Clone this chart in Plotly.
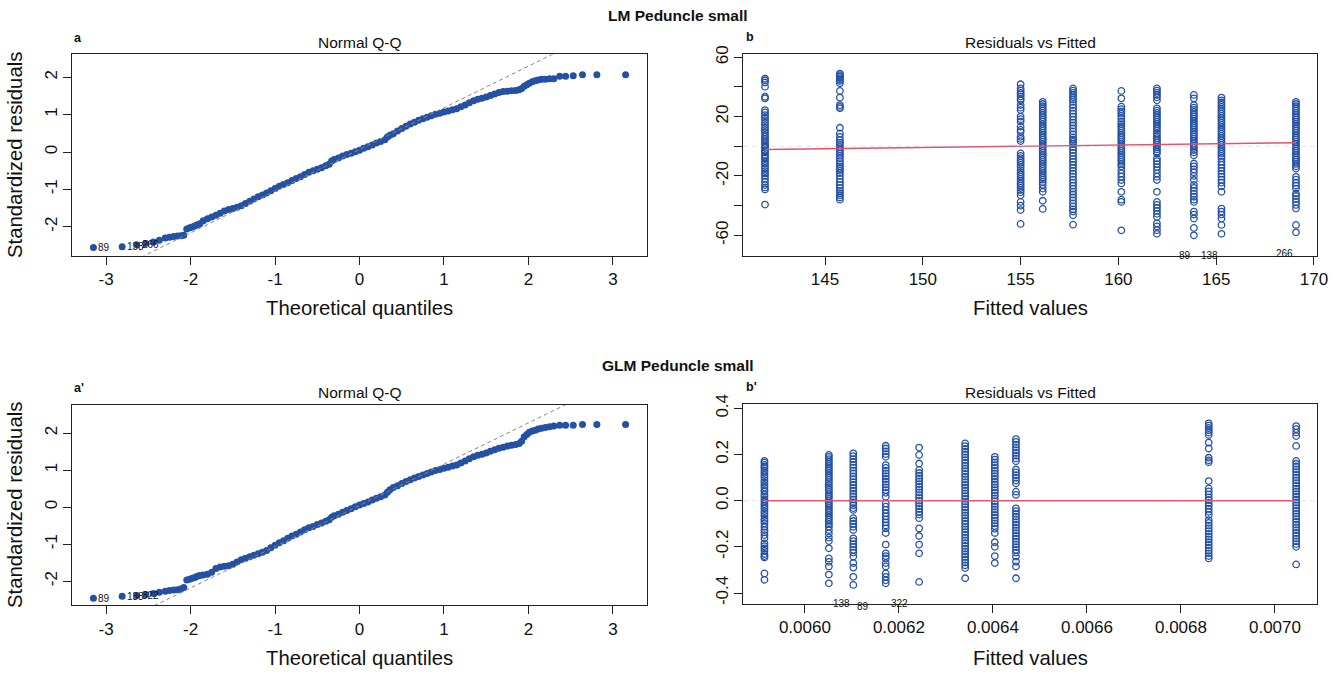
import plotly.graph_objects as go

W, H = 1339, 675
FONT = "Liberation Sans, Arial, Helvetica, sans-serif"
BLUE = "#2451A4"
RED = "#DF536B"
AXIS = "#222222"

# ---- Normal Q-Q panels: theoretical quantiles and sorted standardized residuals ----
QQ_THEORETICAL = [
    -3.15, -2.81, -2.64, -2.53, -2.44, -2.37, -2.30, -2.25, -2.20, -2.155, -2.115, -2.08,
    -2.045, -2.01, -1.98, -1.95, -1.92, -1.89, -1.85, -1.80, -1.75, -1.70, -1.65, -1.60,
    -1.55, -1.50, -1.45, -1.40, -1.35, -1.30, -1.25, -1.20, -1.15, -1.10, -1.05, -1.00,
    -0.95, -0.90, -0.85, -0.80, -0.75, -0.70, -0.65, -0.60, -0.55, -0.50, -0.45, -0.40,
    -0.36, -0.33, -0.30, -0.25, -0.20, -0.15, -0.10, -0.05, 0.00, 0.05, 0.10, 0.15,
    0.20, 0.25, 0.30, 0.33, 0.36, 0.40, 0.45, 0.50, 0.55, 0.60, 0.65, 0.70,
    0.75, 0.80, 0.85, 0.90, 0.95, 1.00, 1.05, 1.10, 1.15, 1.20, 1.25, 1.30,
    1.35, 1.40, 1.45, 1.50, 1.55, 1.60, 1.65, 1.70, 1.75, 1.80, 1.85, 1.89,
    1.92, 1.95, 1.98, 2.01, 2.045, 2.08, 2.115, 2.155, 2.20, 2.25, 2.30, 2.37,
    2.44, 2.53, 2.64, 2.81, 3.15,
]
QQ_LM_STD_RESID = [
    -2.56, -2.54, -2.48, -2.45, -2.41, -2.36, -2.30, -2.28, -2.26, -2.25, -2.24, -2.23,
    -2.06, -2.03, -2.01, -1.98, -1.95, -1.92, -1.84, -1.79, -1.74, -1.69, -1.64, -1.58,
    -1.54, -1.51, -1.48, -1.44, -1.38, -1.32, -1.26, -1.20, -1.15, -1.10, -1.04, -0.98,
    -0.92, -0.87, -0.82, -0.76, -0.71, -0.66, -0.60, -0.54, -0.50, -0.46, -0.42, -0.37,
    -0.33, -0.24, -0.20, -0.16, -0.11, -0.07, -0.03, 0.01, 0.05, 0.10, 0.14, 0.19,
    0.24, 0.28, 0.33, 0.40, 0.45, 0.49, 0.56, 0.63, 0.69, 0.75, 0.80, 0.85,
    0.89, 0.93, 0.97, 1.01, 1.04, 1.07, 1.10, 1.13, 1.16, 1.21, 1.26, 1.32,
    1.37, 1.41, 1.44, 1.47, 1.51, 1.55, 1.59, 1.62, 1.63, 1.64, 1.65, 1.67,
    1.70, 1.76, 1.80, 1.84, 1.88, 1.91, 1.93, 1.95, 1.95, 1.96, 1.96, 2.03,
    2.03, 2.04, 2.07, 2.07, 2.07,
]
QQ_GLM_STD_RESID = [
    -2.46, -2.41, -2.39, -2.36, -2.33, -2.30, -2.27, -2.25, -2.24, -2.23, -2.21, -2.17,
    -1.97, -1.95, -1.92, -1.90, -1.87, -1.85, -1.83, -1.81, -1.76, -1.66, -1.62, -1.60,
    -1.58, -1.54, -1.48, -1.42, -1.38, -1.34, -1.30, -1.26, -1.22, -1.17, -1.10, -1.03,
    -0.96, -0.91, -0.84, -0.78, -0.73, -0.67, -0.61, -0.56, -0.52, -0.47, -0.43, -0.38,
    -0.34, -0.27, -0.23, -0.19, -0.14, -0.09, -0.04, 0.01, 0.06, 0.10, 0.14, 0.19,
    0.24, 0.28, 0.33, 0.40, 0.47, 0.53, 0.58, 0.64, 0.69, 0.74, 0.79, 0.83,
    0.87, 0.91, 0.95, 0.99, 1.02, 1.05, 1.08, 1.11, 1.14, 1.19, 1.25, 1.31,
    1.36, 1.40, 1.43, 1.46, 1.51, 1.55, 1.59, 1.62, 1.65, 1.67, 1.69, 1.72,
    1.78, 1.90, 1.96, 2.02, 2.06, 2.08, 2.11, 2.13, 2.15, 2.17, 2.19, 2.21,
    2.21, 2.21, 2.23, 2.23, 2.23,
]
# reference lines through the quartiles: (intercept, slope)
QQ_LM_LINE = (0.067, 1.116)
QQ_GLM_LINE = (0.047, 1.115)
QQ_LM_IDS = ["89", "138", "266"]
QQ_GLM_IDS = ["89", "138", "322"]
QQ_X_TICKS = [-3, -2, -1, 0, 1, 2, 3]
QQ_Y_TICKS = [-2, -1, 0, 1, 2]

# ---- Residuals vs Fitted panels ----
LM_FITTED = [141.93, 145.76, 155.00, 156.13, 157.68, 160.15, 161.97, 163.86, 165.27, 169.08]
LM_RESID = [
    [45.6, 44.5, 43.0, 40.2, 33.4, 32.3, 24.4, 22.8, 21.0, 19.3, 17.7, 15.9, 14.3, 12.5, 10.9,
     9.4, 7.6, 6.4, 4.9, 3.5, 2.2, 0.8, -0.2, -1.0, -2.6, -3.5, -4.2, -6.0, -7.0, -8.2, -10.0,
     -11.6, -13.2, -14.9, -16.7, -18.3, -19.9, -21.7, -23.9, -26.1, -27.7, -29.1, -39.3],
    [49.0, 48.0, 47.0, 46.0, 45.0, 44.0, 42.5, 37.3, 32.8, 27.8, 26.5, 25.6, 12.5, 8.7, 6.4,
     4.2, 2.5, 1.0, -0.5, -2.0, -3.5, -5.0, -6.5, -8.0, -10.0, -12.0, -13.5, -15.0, -16.5,
     -18.0, -20.0, -22.0, -24.0, -26.0, -28.0, -30.0, -31.5, -33.0, -34.5, -36.0],
    [41.8, 39.0, 37.5, 36.0, 35.0, 33.5, 32.0, 31.0, 27.8, 26.0, 24.4, 20.0, 18.3, 16.6, 13.2,
     11.0, 9.7, 6.4, 5.0, 3.5, -4.8, -6.5, -8.0, -9.5, -11.0, -12.5, -14.0, -16.0, -17.5,
     -19.0, -20.5, -22.0, -23.5, -25.0, -26.5, -28.0, -29.5, -31.0, -33.0, -37.5, -40.0,
     -43.0, -52.3],
    [30.0, 28.5, 27.0, 25.5, 24.0, 22.5, 21.0, 19.5, 18.0, 16.6, 15.0, 13.5, 12.0, 10.5, 9.0,
     7.5, 6.0, 4.5, 3.0, 1.5, 0.0, -1.5, -3.0, -4.5, -6.0, -7.5, -9.0, -10.5, -12.0, -13.5,
     -15.0, -16.5, -18.0, -19.5, -21.0, -22.5, -24.0, -26.0, -28.5, -30.7, -36.7, -42.2],
    [39.0, 37.5, 36.0, 34.5, 33.0, 31.5, 30.0, 27.8, 26.0, 24.0, 22.0, 20.0, 18.0, 16.0, 14.0,
     12.0, 10.0, 8.0, 6.0, 4.5, 3.0, 1.5, -0.5, -2.5, -4.5, -6.5, -8.5, -10.5, -12.5, -14.5,
     -16.5, -18.5, -20.5, -22.5, -24.5, -26.5, -28.5, -30.5, -32.5, -34.5, -36.5, -38.5,
     -40.5, -42.5, -44.0, -46.5, -52.8],
    [37.3, 32.3, 26.7, 25.0, 23.5, 22.0, 20.5, 18.8, 16.6, 15.0, 13.5, 12.0, 10.5, 9.0, 7.5,
     6.0, 4.5, 3.0, 1.5, 0.0, -1.5, -3.0, -4.5, -6.0, -7.5, -9.0, -10.5, -12.0, -13.5, -16.0,
     -18.3, -20.5, -22.7, -25.0, -30.7, -36.0, -37.5, -56.6],
    [39.0, 37.5, 36.0, 34.5, 33.0, 31.0, 25.6, 24.0, 22.5, 21.0, 19.5, 18.0, 16.5, 15.0, 13.5,
     12.0, 10.5, 8.7, 7.0, 5.5, 4.0, 2.5, 1.0, -0.5, -2.0, -3.5, -4.8, -8.2, -10.0, -12.0,
     -14.0, -16.0, -18.3, -20.5, -22.7, -30.7, -37.5, -39.5, -41.5, -43.5, -45.5, -47.6,
     -52.0, -54.0, -56.5, -59.0],
    [34.6, 32.3, 27.8, 26.0, 24.5, 23.0, 21.5, 20.0, 18.5, 17.0, 15.5, 14.0, 12.5, 11.0, 9.5,
     8.0, 6.5, 5.0, 3.5, 2.0, 0.5, -1.0, -2.5, -4.0, -6.0, -11.6, -13.5, -15.5, -17.5, -20.0,
     -22.7, -26.0, -28.0, -30.0, -32.0, -34.0, -36.0, -37.5, -44.0, -46.0, -48.7, -55.0, -60.0],
    [32.8, 31.0, 29.5, 28.0, 26.5, 25.0, 23.5, 22.0, 20.5, 19.0, 17.5, 16.0, 14.5, 13.0, 11.5,
     10.0, 8.5, 7.0, 5.5, 4.0, 2.5, 1.0, -0.5, -2.0, -3.5, -5.0, -6.5, -8.0, -10.5, -12.5,
     -14.5, -16.5, -18.5, -20.5, -22.5, -24.5, -27.0, -30.7, -42.0, -44.0, -46.0, -48.7,
     -53.0, -59.0],
    [30.0, 28.5, 27.0, 25.5, 24.0, 22.5, 21.0, 19.5, 18.0, 16.5, 15.0, 13.5, 12.0, 10.5, 9.0,
     7.5, 6.0, 4.5, 3.0, 1.5, 0.0, -1.5, -3.0, -4.5, -6.0, -7.5, -9.0, -10.5, -12.0, -13.5,
     -15.0, -20.6, -22.5, -24.5, -26.5, -28.5, -31.8, -33.5, -35.5, -37.5, -39.5, -42.0,
     -53.0, -58.0],
]
LM_SMOOTH = [-2.2, -1.5, 0.0, 0.2, 0.5, 1.0, 1.4, 1.7, 1.9, 2.4]
LM_RV_IDS = [("89", 163.4, -73.9), ("138", 164.66, -73.9), ("266", 168.47, -72.4)]
LM_X_TICKS = [145, 150, 155, 160, 165, 170]
LM_Y_TICKS = [-60, -40, -20, 0, 20, 40, 60]
LM_Y_TICKTEXT = ["-60", "", "-20", "", "20", "", "60"]

GLM_FITTED = [0.005914, 0.006051, 0.006103, 0.006172, 0.006243,
              0.006341, 0.006404, 0.006449, 0.006859, 0.007045]
GLM_RESID = [
    [0.172, 0.165, 0.155, 0.147, 0.140, 0.130, 0.121, 0.111, 0.101, 0.089, 0.078, 0.068,
     0.058, 0.046, 0.039, 0.027, 0.017, 0.006, -0.004, -0.014, -0.023, -0.033, -0.045,
     -0.055, -0.066, -0.079, -0.087, -0.098, -0.113, -0.127, -0.137, -0.149, -0.163,
     -0.185, -0.197, -0.207, -0.217, -0.231, -0.240, -0.246, -0.315, -0.343],
    [0.198, 0.190, 0.180, 0.170, 0.160, 0.150, 0.140, 0.130, 0.120, 0.110, 0.100, 0.090,
     0.080, 0.068, 0.058, 0.048, 0.038, 0.028, 0.018, 0.008, -0.002, -0.012, -0.022,
     -0.032, -0.042, -0.052, -0.062, -0.072, -0.082, -0.092, -0.102, -0.112, -0.127,
     -0.142, -0.160, -0.175, -0.206, -0.250, -0.265, -0.285, -0.320, -0.358],
    [0.205, 0.193, 0.180, 0.168, 0.155, 0.143, 0.130, 0.118, 0.105, 0.093, 0.080, 0.068,
     0.055, 0.043, 0.030, 0.018, 0.005, -0.008, -0.020, -0.032, -0.040, -0.076, -0.088,
     -0.100, -0.113, -0.127, -0.163, -0.175, -0.188, -0.200, -0.213, -0.225, -0.242,
     -0.270, -0.290, -0.330, -0.365],
    [0.238, 0.226, 0.214, 0.202, 0.190, 0.154, 0.142, 0.130, 0.118, 0.106, 0.094, 0.082,
     0.070, 0.058, 0.046, 0.034, 0.017, -0.012, -0.026, -0.040, -0.055, -0.068, -0.081,
     -0.094, -0.107, -0.120, -0.140, -0.190, -0.228, -0.240, -0.250, -0.270, -0.285,
     -0.315, -0.330, -0.345, -0.358],
    [0.230, 0.198, 0.161, 0.133, 0.120, 0.108, 0.096, 0.084, 0.072, 0.060, 0.048, 0.036,
     0.024, 0.012, 0.000, -0.012, -0.024, -0.036, -0.048, -0.060, -0.076, -0.120, -0.153,
     -0.190, -0.228, -0.352],
    [0.248, 0.236, 0.224, 0.212, 0.200, 0.188, 0.176, 0.164, 0.152, 0.140, 0.128, 0.116,
     0.104, 0.092, 0.080, 0.068, 0.056, 0.044, 0.032, 0.020, 0.008, -0.004, -0.016,
     -0.028, -0.040, -0.052, -0.064, -0.076, -0.088, -0.100, -0.112, -0.124, -0.136,
     -0.148, -0.160, -0.172, -0.184, -0.196, -0.208, -0.220, -0.232, -0.244, -0.256,
     -0.268, -0.280, -0.292, -0.336],
    [0.190, 0.178, 0.166, 0.154, 0.142, 0.130, 0.118, 0.106, 0.094, 0.082, 0.070, 0.058,
     0.046, 0.034, 0.022, 0.010, -0.002, -0.014, -0.026, -0.038, -0.050, -0.062, -0.074,
     -0.086, -0.098, -0.110, -0.122, -0.140, -0.180, -0.200, -0.240, -0.270],
    [0.267, 0.255, 0.243, 0.231, 0.219, 0.207, 0.195, 0.183, 0.171, 0.135, 0.123, 0.111,
     0.099, 0.087, 0.075, 0.039, 0.025, -0.033, -0.045, -0.057, -0.069, -0.081, -0.093,
     -0.105, -0.117, -0.129, -0.141, -0.153, -0.165, -0.177, -0.189, -0.201, -0.213,
     -0.225, -0.242, -0.264, -0.285, -0.336],
    [0.335, 0.325, 0.315, 0.305, 0.295, 0.285, 0.252, 0.226, 0.186, 0.175, 0.167, 0.085,
     0.053, 0.040, 0.027, 0.014, 0.003, -0.010, -0.022, -0.035, -0.048, -0.062, -0.084,
     -0.096, -0.108, -0.120, -0.132, -0.144, -0.156, -0.168, -0.180, -0.192, -0.204,
     -0.216, -0.228, -0.240, -0.250],
    [0.323, 0.310, 0.295, 0.280, 0.237, 0.172, 0.160, 0.148, 0.136, 0.124, 0.112, 0.100,
     0.088, 0.076, 0.064, 0.052, 0.040, 0.028, 0.016, 0.004, -0.008, -0.020, -0.032,
     -0.044, -0.056, -0.068, -0.080, -0.092, -0.104, -0.116, -0.128, -0.140, -0.152,
     -0.164, -0.176, -0.188, -0.200, -0.276],
]
GLM_SMOOTH = [0.0, 0.0, 0.0, 0.0, 0.0, 0.0, 0.0, 0.0, 0.0, 0.0]
GLM_RV_IDS = [("138", 0.006078, -0.447), ("89", 0.006123, -0.459), ("322", 0.006201, -0.447)]
GLM_X_TICKS = [0.0060, 0.0062, 0.0064, 0.0066, 0.0068, 0.0070]
GLM_Y_TICKS = [-0.4, -0.2, 0.0, 0.2, 0.4]


def px(x):
    return x / W


def py(y):
    return 1 - y / H


def labels(vals, fmt="{:g}"):
    # plain hyphen-minus, as in base R graphics
    return [fmt.format(v) for v in vals]


fig = go.Figure()


def qq_panel(n, yvals, line, ids):
    xa, ya = ("x", "y") if n == 1 else (f"x{n}", f"y{n}")
    fig.add_trace(go.Scatter(
        x=QQ_THEORETICAL, y=yvals, mode="markers", xaxis=xa, yaxis=ya,
        marker=dict(symbol="circle", size=7, color=BLUE, line=dict(width=0)),
        hoverinfo="skip"))
    a, b = line
    xs = [-3.4, 3.4]
    fig.add_trace(go.Scatter(
        x=xs, y=[a + b * v for v in xs], mode="lines", xaxis=xa, yaxis=ya,
        line=dict(color="#858585", width=1, dash="4px,3px"), hoverinfo="skip"))
    for i, label in enumerate(ids):
        fig.add_annotation(
            x=QQ_THEORETICAL[i], y=yvals[i], xref=xa, yref=ya, text=label,
            showarrow=False, xanchor="left", yanchor="middle", xshift=3,
            font=dict(family=FONT, size=10, color="#111111"))


def rvf_panel(n, fitted, resid, smooth, ids):
    xa, ya = f"x{n}", f"y{n}"
    xs, ys = [], []
    for f, col in zip(fitted, resid):
        xs.extend([f] * len(col))
        ys.extend(col)
    fig.add_trace(go.Scatter(
        x=xs, y=ys, mode="markers", xaxis=xa, yaxis=ya,
        marker=dict(symbol="circle-open", size=6.5, color=BLUE, line=dict(width=1.3, color=BLUE)),
        hoverinfo="skip"))
    fig.add_trace(go.Scatter(
        x=fitted, y=smooth, mode="lines", xaxis=xa, yaxis=ya,
        line=dict(color=RED, width=1.4), hoverinfo="skip"))
    fig.add_shape(type="line", xref=f"{xa} domain", yref=ya, x0=0, x1=1, y0=0, y1=0,
                  layer="above", line=dict(color="#A8A8A8", width=1.1, dash="5px,4px"))
    yax = fig.layout[f"yaxis{n}"]
    lo, hi = yax.range
    span_px = (yax.domain[1] - yax.domain[0]) * H
    for label, fx, fy in ids:
        fig.add_annotation(
            x=fx, y=0, xref=xa, yref=f"{ya} domain", text=label, showarrow=False,
            xanchor="center", yanchor="middle", yshift=(fy - lo) / (hi - lo) * span_px,
            font=dict(family=FONT, size=10, color="#111111"))


axis_common = dict(
    showline=True, mirror=True, linecolor=AXIS, linewidth=1, ticks="outside", ticklen=8,
    tickwidth=1, tickcolor=AXIS, showgrid=False, zeroline=False, automargin=False,
    tickfont=dict(family=FONT, size=17, color="#111111"),
)

LEFT = [px(72.3), px(646.7)]
RIGHT = [px(743.3), px(1317.3)]
TOP = [py(255.5), py(54.3)]
BOTTOM = [py(605.2), py(404.5)]

fig.update_layout(
    template="simple_white",
    width=W, height=H, margin=dict(l=0, r=0, t=0, b=0, autoexpand=False), autosize=False,
    paper_bgcolor="white", plot_bgcolor="white", showlegend=False,
    xaxis=dict(domain=LEFT, anchor="y", range=[-3.40, 3.40], tickvals=QQ_X_TICKS,
               ticktext=labels(QQ_X_TICKS), **axis_common),
    yaxis=dict(domain=TOP, anchor="x", range=[-2.771, 2.616], tickvals=QQ_Y_TICKS,
               ticktext=labels(QQ_Y_TICKS), tickangle=-90, **axis_common),
    xaxis2=dict(domain=RIGHT, anchor="y2", range=[140.82, 170.17], tickvals=LM_X_TICKS,
                ticktext=labels(LM_X_TICKS), **axis_common),
    yaxis2=dict(domain=TOP, anchor="x2", range=[-73.6, 62.0], tickvals=LM_Y_TICKS,
                ticktext=LM_Y_TICKTEXT, tickangle=-90, **axis_common),
    xaxis3=dict(domain=LEFT, anchor="y3", range=[-3.40, 3.40], tickvals=QQ_X_TICKS,
                ticktext=labels(QQ_X_TICKS), **axis_common),
    yaxis3=dict(domain=BOTTOM, anchor="x3", range=[-2.649, 2.773], tickvals=QQ_Y_TICKS,
                ticktext=labels(QQ_Y_TICKS), tickangle=-90, **axis_common),
    xaxis4=dict(domain=RIGHT, anchor="y4", range=[0.005869, 0.007090], tickvals=GLM_X_TICKS,
                ticktext=labels(GLM_X_TICKS, "{:.4f}"), **axis_common),
    yaxis4=dict(domain=[py(604.0), py(404.3)], anchor="x4", range=[-0.4476, 0.4175],
                tickvals=GLM_Y_TICKS, ticktext=labels(GLM_Y_TICKS, "{:.1f}"),
                tickangle=-90, **axis_common),
)

qq_panel(1, QQ_LM_STD_RESID, QQ_LM_LINE, QQ_LM_IDS)
rvf_panel(2, LM_FITTED, LM_RESID, LM_SMOOTH, LM_RV_IDS)
qq_panel(3, QQ_GLM_STD_RESID, QQ_GLM_LINE, QQ_GLM_IDS)
rvf_panel(4, GLM_FITTED, GLM_RESID, GLM_SMOOTH, GLM_RV_IDS)


def text(s, x, y, size, bold=False, xanchor="center", angle=0):
    fig.add_annotation(
        x=px(x), y=py(y), xref="paper", yref="paper", text=f"<b>{s}</b>" if bold else s,
        showarrow=False, xanchor=xanchor, yanchor="middle", textangle=angle,
        font=dict(family=FONT, size=size, color="#111111"))


text("LM Peduncle small", 678, 15.7, 15.5, bold=True)
text("GLM Peduncle small", 678, 365.5, 15.5, bold=True)
for y0, sfx in ((0, ""), (350, "'")):
    text("Normal Q-Q", 359.5, 42.3 + y0, 15.5)
    text("Residuals vs Fitted", 1030.3, 42.3 + y0, 15.5)
    text("a" + sfx, 72.0, 37.5 + y0, 12.5, bold=True, xanchor="left")
    text("b" + sfx, 743.5, 37.0 + y0, 12.5, bold=True, xanchor="left")
    text("Theoretical quantiles", 359.5, 308.0 + y0, 20.3)
    text("Fitted values", 1030.3, 308.0 + y0, 20.3)
    text("Standardized residuals", 15.0, 155.0 + y0, 20.3, angle=-90)

# page without body margin so the 1339x675 figure fills the window exactly
fig.write_html(
    "out.html",
    post_script="document.body.style.margin='0';document.body.style.overflow='hidden';",
)
